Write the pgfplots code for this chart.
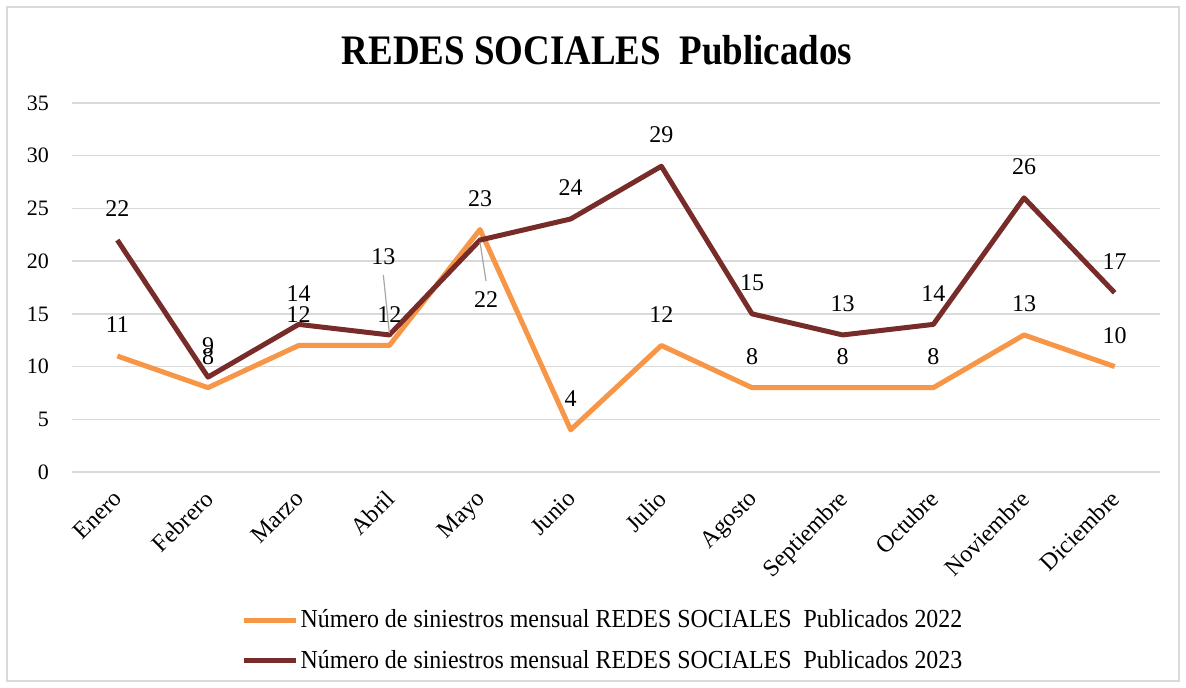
\documentclass[border=0pt]{standalone}
\usepackage{fontspec}
\setmainfont{Liberation Serif}
\newfontfamily\condfont[FakeStretch=0.92]{Liberation Serif}
\newfontfamily\titfont[FakeStretch=0.88]{Liberation Serif}
\usepackage{pgfplots}
\pgfplotsset{compat=1.18}
\definecolor{serA}{RGB}{247,150,70}
\definecolor{serB}{RGB}{120,44,42}
\definecolor{gridc}{RGB}{217,217,217}
\definecolor{leader}{RGB}{166,166,166}
\begin{document}
\begin{tikzpicture}
\path[use as bounding box] (0,0) rectangle (593pt,344pt);
\draw[gridc, line width=0.75pt] (3.5pt,3.5pt) rectangle (589.5pt,340.5pt);
\node[font=\titfont\fontsize{21}{24}\selectfont\bfseries] at (298.5pt,319pt) {REDES SOCIALES\ \ Publicados};
\begin{axis}[
  at={(36pt,108pt)}, anchor=south west, scale only axis,
  width=544pt, height=184.5pt,
  xmin=-0.5, xmax=11.5, ymin=0, ymax=35,
  ytick={0,5,...,35},
  xtick={0,...,11},
  xticklabels={Enero,Febrero,Marzo,Abril,Mayo,Junio,Julio,Agosto,Septiembre,Octubre,Noviembre,Diciembre},
  x tick label style={xshift=-2.5pt, yshift=-3.5pt, rotate=45, anchor=north east, font=\fontsize{12}{14}\selectfont},
  y tick label style={font=\fontsize{11}{13}\selectfont, xshift=-8pt},
  /pgf/number format/assume math mode=true,
  axis line style={draw=none},
  tick style={draw=none},
  ymajorgrids, grid style={gridc, line width=0.75pt},
  legend style={at={(0.488,-0.4566)}, anchor=center, draw=none, fill=none,
    font=\condfont\fontsize{13}{15}\selectfont, row sep=5.5pt, nodes={inner xsep=1pt}},
  legend cell align=left,
  legend image code/.code={\draw[#1, line width=2.5pt] (0pt,0pt) -- (26pt,0pt);},
  every node near coord/.append style={black, font=\fontsize{12}{14}\selectfont, yshift=7pt},
  clip=false,
]
\addplot[serA, line width=2.5pt, line join=round, nodes near coords, point meta=explicit symbolic]
  table[meta=lab] {
x y lab
0 11 11
1 8 8
2 12 12
3 12 12
4 23 23
5 4 4
6 12 12
7 8 8
8 8 8
9 8 8
10 13 13
11 10 10
};
\addlegendentry{Número de siniestros mensual REDES SOCIALES\ \ Publicados 2022}
\addplot[serB, line width=2.5pt, line join=round, nodes near coords, point meta=explicit symbolic]
  table[meta=lab] {
x y lab
0 22 22
1 9 9
2 14 14
3 13 {}
4 22 {}
5 24 24
6 29 29
7 15 15
8 13 13
9 14 14
10 26 26
11 17 17
};
\addlegendentry{Número de siniestros mensual REDES SOCIALES\ \ Publicados 2023}
\node[font=\fontsize{12}{14}\selectfont] at ([xshift=-3pt,yshift=39pt]axis cs:3,13) {13};
\draw[leader, line width=0.6pt] ([xshift=-3pt,yshift=30pt]axis cs:3,13) -- ([yshift=1pt]axis cs:3,13);
\node[font=\fontsize{12}{14}\selectfont] at ([xshift=3pt,yshift=-30pt]axis cs:4,22) {22};
\draw[leader, line width=0.6pt] ([yshift=-1pt]axis cs:4,22) -- ([xshift=3pt,yshift=-20.5pt]axis cs:4,22);
\end{axis}
\end{tikzpicture}
\end{document}
